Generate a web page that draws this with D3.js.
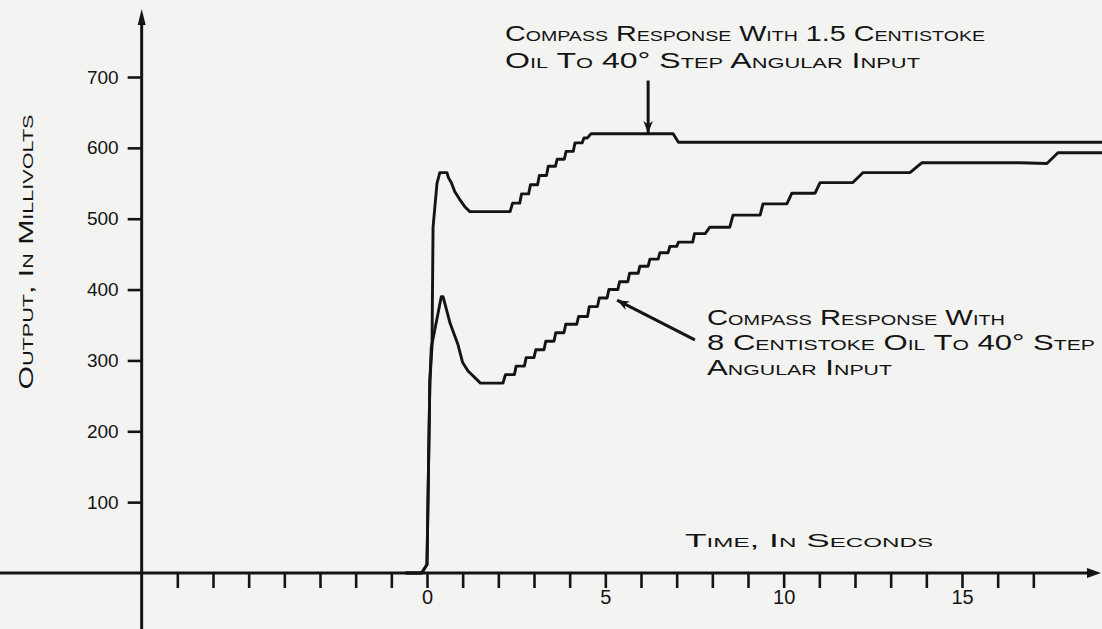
<!DOCTYPE html>
<html>
<head>
<meta charset="utf-8">
<script src="https://cdn.jsdelivr.net/npm/d3@7"></script>
<style>
  body { margin: 0; background: #f3f3f1; }
  svg { display: block; background: #f3f3f1; }
  text { font-family: "Liberation Sans", "DejaVu Sans", sans-serif; fill: #141414; }
  .label { font-variant: small-caps; }
</style>
</head>
<body>
<div class="chart"></div>
<script>
/* DATA */
/* Time in seconds, output in millivolts */
/* Each entry is a plateau: [start time, end time, value] */

var xTicks = d3.range(-7, 18);
var xTickLabels = [0, 5, 10, 15];
var yTicks = [100, 200, 300, 400, 500, 600, 700];

var oil15 = [
    [-0.6, -0.15, 0], [0.0, 0.0, 12], [0.08, 0.08, 270],
    [0.14, 0.14, 320], [0.17, 0.17, 488], [0.28, 0.28, 550], [0.36, 0.56, 565],
    [0.6, 0.6, 558], [0.68, 0.68, 551], [0.78, 0.78, 538], [0.92, 0.92, 527],
    [1.06, 1.06, 517], [1.2, 2.33, 510], [2.4, 2.6, 522], [2.65, 2.85, 535],
    [2.9, 3.1, 548], [3.15, 3.35, 561], [3.4, 3.6, 574], [3.65, 3.85, 584],
    [3.9, 4.1, 595], [4.15, 4.35, 607], [4.4, 4.5, 614], [4.6, 6.9, 620],
    [7.05, 18.95, 608]
];

var oil8 = [
    [-0.6, -0.15, 0], [0.0, 0.0, 12], [0.08, 0.08, 270],
    [0.12, 0.12, 318], [0.4, 0.45, 390], [0.65, 0.65, 352], [0.87, 0.87, 322],
    [1.0, 1.0, 297], [1.15, 1.15, 285], [1.5, 2.13, 268], [2.2, 2.45, 280],
    [2.5, 2.73, 292], [2.78, 3.0, 304], [3.05, 3.28, 315], [3.33, 3.56, 327],
    [3.61, 3.84, 339], [3.89, 4.2, 351], [4.25, 4.5, 362], [4.55, 4.78, 376],
    [4.83, 5.05, 388], [5.1, 5.35, 400], [5.4, 5.63, 411], [5.68, 5.92, 423],
    [5.97, 6.2, 433], [6.25, 6.48, 443], [6.53, 6.76, 452], [6.81, 7.0, 461],
    [7.05, 7.45, 467], [7.5, 7.8, 479], [7.93, 8.49, 488], [8.58, 9.34, 505],
    [9.42, 10.09, 521], [10.23, 10.88, 536], [11.02, 11.94, 551], [12.22, 13.54, 565],
    [13.88, 16.62, 579], [17.38, 17.38, 578], [17.69, 18.95, 593]
];

// arrows: [t, mV] tail then head
var arrow15 = [[6.2, 695], [6.2, 621]];
var arrow8 = [[7.51, 329], [5.33, 385]];

/* SET UP */
var width = 1102;
var height = 629;

var xScale = d3.scaleLinear().domain([0, 15]).range([427, 962]);
var yScale = d3.scaleLinear().domain([0, 700]).range([573, 77]);

var yAxisT = -8;

var theSvg = d3.select(".chart").append("svg")
    .attr("width", width)
    .attr("height", height);

var defs = theSvg.append("defs");
defs.append("marker")
    .attr("id", "head")
    .attr("viewBox", "0 0 10 10")
    .attr("refX", 10)
    .attr("refY", 5)
    .attr("markerWidth", 7)
    .attr("markerHeight", 4)
    .attr("markerUnits", "strokeWidth")
    .attr("orient", "auto")
    .append("path")
    .attr("d", "M0,1 L10,5 L0,9 L3,5 Z")
    .attr("fill", "#141414");

// turn plateaus into polyline points
function toPoints(plateaus) {
    var pts = [];
    plateaus.forEach(function(p) {
        pts.push([p[0], p[2]]);
        if (p[1] !== p[0]) pts.push([p[1], p[2]]);
    });
    return pts;
}

/* AXES */
var x0 = xScale(yAxisT);
var yZero = yScale(0);

// horizontal axis line
theSvg.append("line")
    .attr("x1", 0).attr("x2", width - 8)
    .attr("y1", yZero).attr("y2", yZero)
    .attr("stroke", "#141414").attr("stroke-width", 3);
theSvg.append("path")
    .attr("d", "M" + (width - 1) + "," + yZero + " l-14,-5 l0,10 Z")
    .attr("fill", "#141414");

// vertical axis line
theSvg.append("line")
    .attr("x1", x0).attr("x2", x0)
    .attr("y1", height).attr("y2", 20)
    .attr("stroke", "#141414").attr("stroke-width", 3);
theSvg.append("path")
    .attr("d", "M" + x0 + ",9 l-4,16 l8,0 Z")
    .attr("fill", "#141414");

var xAxis = theSvg.append("g")
    .attr("class", "x axis")
    .attr("transform", "translate(0," + yZero + ")")
    .call(d3.axisBottom(xScale)
        .tickValues(xTicks)
        .tickSize(15)
        .tickPadding(2)
        .tickFormat(function(d) {
            return xTickLabels.indexOf(d) >= 0 ? d : "";
        }));
xAxis.select(".domain").remove();
xAxis.selectAll(".tick line").attr("stroke", "#141414").attr("stroke-width", 2.6);
xAxis.selectAll(".tick text")
    .attr("font-size", 20)
    .attr("fill", "#141414")
    .style("font-family", "Liberation Sans, sans-serif");

var yAxis = theSvg.append("g")
    .attr("class", "y axis")
    .attr("transform", "translate(" + x0 + ",0)")
    .call(d3.axisLeft(yScale)
        .tickValues(yTicks)
        .tickSize(14)
        .tickPadding(9));
yAxis.select(".domain").remove();
yAxis.selectAll(".tick line").attr("stroke", "#141414").attr("stroke-width", 2.6);
yAxis.selectAll(".tick text")
    .attr("font-size", 19)
    .attr("fill", "#141414")
    .style("font-family", "Liberation Sans, sans-serif");

/* CURVES */
var line = d3.line()
    .x(function(d) { return xScale(d[0]); })
    .y(function(d) { return yScale(d[1]); });

[oil15, oil8].forEach(function(s) {
    theSvg.append("path")
        .datum(toPoints(s))
        .attr("d", line)
        .attr("fill", "none")
        .attr("stroke", "#141414")
        .attr("stroke-width", 2.9)
        .attr("stroke-linejoin", "round");
});

/* ARROWS */
[arrow15, arrow8].forEach(function(a) {
    theSvg.append("line")
        .attr("x1", xScale(a[0][0])).attr("y1", yScale(a[0][1]))
        .attr("x2", xScale(a[1][0])).attr("y2", yScale(a[1][1]))
        .attr("stroke", "#141414")
        .attr("stroke-width", 3)
        .attr("marker-end", "url(#head)");
});

/* TEXT */
function label(str, x, y, size, len) {
    theSvg.append("text")
        .attr("class", "label")
        .attr("x", x).attr("y", y)
        .attr("font-size", size)
        .attr("textLength", len)
        .attr("lengthAdjust", "spacingAndGlyphs")
        .text(str);
}

label("Compass Response With 1.5 Centistoke", 505, 41, 22, 480);
label("Oil To 40\u00B0 Step Angular Input", 505, 68, 22, 415);
label("Compass Response With", 707, 325, 22, 298);
label("8 Centistoke Oil To 40\u00B0 Step", 707, 350, 22, 388);
label("Angular Input", 707, 375, 22, 185);
label("Time, In Seconds", 685, 547, 19, 248);

theSvg.append("text")
    .attr("class", "label")
    .attr("transform", "translate(33,252) rotate(-90)")
    .attr("text-anchor", "middle")
    .attr("font-size", 21)
    .attr("textLength", 275)
    .attr("lengthAdjust", "spacingAndGlyphs")
    .text("Output, In Millivolts");
</script>
</body>
</html>
